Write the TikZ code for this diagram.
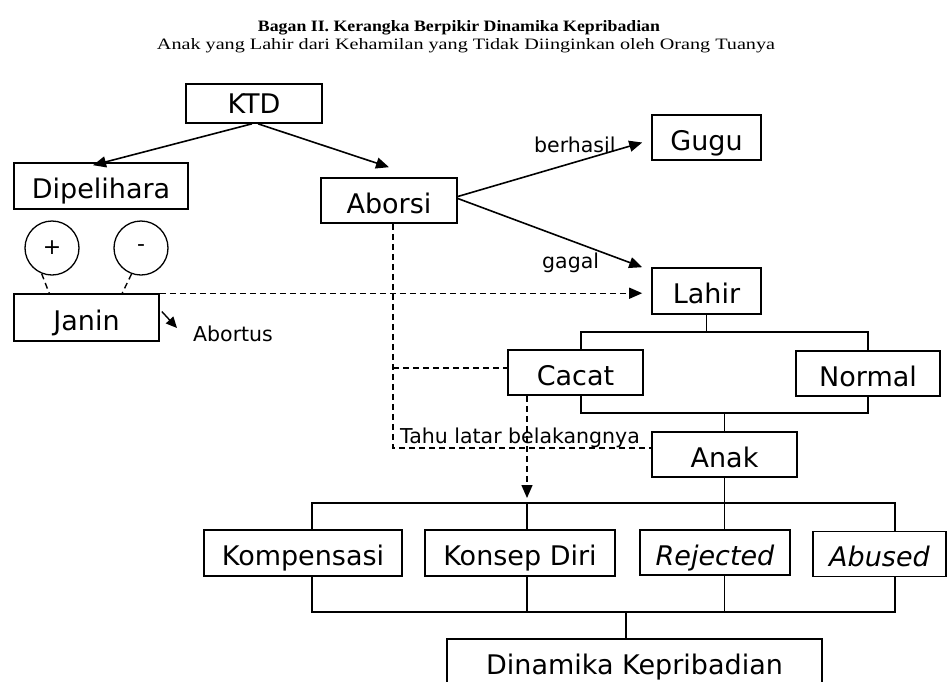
\documentclass[tikz,border=0pt]{standalone}
\usepackage{fontspec}
\usepackage{graphicx}
\setmainfont{DejaVu Sans}
\newfontfamily\titlefont{Liberation Serif}
\usetikzlibrary{arrows.meta,calc}
\begin{document}
\begin{tikzpicture}[x=1pt,y=-1pt,
  box/.style={draw, line width=1.6pt, inner sep=0pt, minimum height=45pt,
              text height=25pt, text depth=0pt, font=\fontsize{27}{30}\selectfont},
  circ/.style={draw, circle, line width=1.3pt, minimum size=54pt, inner sep=0pt,
               font=\fontsize{22}{24}\selectfont},
  lab/.style={inner sep=0pt, anchor=base west, font=\fontsize{20.5}{23}\selectfont},
  conn/.style={line width=1.7pt},
  arr/.style={line width=1.6pt, -{Triangle[length=13pt,width=11pt]}},
  dsh/.style={line width=1.4pt, dash pattern=on 6pt off 4pt},
  ttl/.style={inner sep=0pt, anchor=base},
]
\useasboundingbox[fill=white] (0,0) rectangle (951,681);

% title
\node[ttl] (t1) at (459,31) {\resizebox{402pt}{11pt}{\titlefont\bfseries Bagan II. Kerangka Berpikir Dinamika Kepribadian}};
\node[ttl] (t2) at (466,49) {\resizebox{618pt}{11pt}{\titlefont Anak yang Lahir dari Kehamilan yang Tidak Diinginkan oleh Orang Tuanya}};

% boxes
\node[box, minimum width=136pt, minimum height=39pt, text height=19pt] (ktd) at (254,103.5) {KTD};
\node[box, minimum width=174pt, minimum height=46pt] (dip) at (101,186) {Dipelihara};
\node[box, minimum width=136pt] (abo) at (389,200.5) {Aborsi};
\node[box, minimum width=109pt] (gugu) at (706.5,137.5) {Gugu};
\node[box, minimum width=109pt, minimum height=46pt] (lahir) at (706.5,291) {Lahir};
\node[circ] (plus) at (52,248) {+};
\node[circ] (minus) at (141,248) {-};
\node[box, minimum width=145pt, minimum height=47pt] (janin) at (86.5,317.5) {Janin};
\node[box, minimum width=135pt] (cacat) at (575.5,372.5) {Cacat};
\node[box, minimum width=144pt] (normal) at (868,373.5) {Normal};
\node[box, minimum width=145pt] (anak) at (724.5,454.5) {Anak};
\node[box, minimum width=198pt, minimum height=46pt] (komp) at (303,553) {Kompensasi};
\node[box, minimum width=190pt, minimum height=46pt] (konsep) at (520,553) {Konsep Diri};
\node[box, minimum width=150pt] (rej) at (715,552.5) {\itshape Rejected};
\node[box, minimum width=133pt] (abu) at (879.5,554) {\itshape Abused};
\node[box, minimum width=375pt, minimum height=46pt] (dina) at (634.5,662) {Dinamika Kepribadian};

% labels
\node[lab] (lberhasil) at (534,152) {berhasil};
\node[lab] (lgagal) at (542,268) {gagal};
\node[lab] (labortus) at (193,341) {Abortus};
\node[lab] (ltahu) at (400,443) {Tahu latar belakangnya};

% coordinates
\coordinate (abt) at (177,328);
\coordinate (lt) at (581,332);
\coordinate (rt) at (868,332);
\coordinate (lb) at (581,413);
\coordinate (b1) at (312,503);
\coordinate (kd) at (527,503);
\coordinate (b4) at (895,503);
\coordinate (c1) at (312,612);
\coordinate (c4) at (895,612);
\coordinate (dv) at ([xshift=4pt]abo.south);
\coordinate (cacatL) at ([yshift=4.5pt]cacat.west);

% arrows from KTD
\draw[arr] ([xshift=-2pt]ktd.south) -- ([xshift=-8pt,yshift=-3pt]dip.north);
\draw[arr] ([xshift=4pt]ktd.south) -- ([yshift=10pt]abo.north);
% from Aborsi
\draw[arr] ([yshift=4pt]abo.east) -- ([xshift=-9pt,yshift=-5pt]gugu.west);
\draw[arr] ([yshift=2pt]abo.east) -- ([xshift=-9pt]lahir.north west);
% circles to Janin
\draw[dsh] (plus.248) -- ([xshift=36pt]janin.north west);
\draw[dsh] (minus.250) -- ([xshift=109pt]janin.north west);
% Janin to Lahir
\draw[dsh, arr, line width=1.4pt, shorten >=9pt] (janin.north east) -- (janin.north east -| lahir.west);
% Janin to Abortus
\draw[arr, line width=1.4pt, -{Triangle[length=11pt,width=10pt]}] ([xshift=2pt,yshift=6pt]janin.east) -- (abt);
% Aborsi dashed
\draw[dsh] (dv) |- ([yshift=6.5pt]anak.west);
\draw[dsh] (dv |- cacatL) -- (cacatL);
% Cacat dashed down
\draw[dsh, arr, line width=1.4pt] ([xshift=-48.5pt]cacat.south) -- ([yshift=5pt]kd);
% Lahir tree
\draw[conn] (lahir.south) -- (lahir.south |- lt);
\draw[conn] (lt |- cacat.north) -- (lt) -- (rt) -- (normal.north);
\draw[conn] (lb |- cacat.south) -- (lb) -- (normal.south |- lb) -- (normal.south);
\draw[conn] (anak.north |- lb) -- (anak.north);
% Anak down
\draw[conn] (anak.south) -- (anak.south |- rej.north);
\draw[conn] (b1 |- komp.north) -- (b1) -- (b4) -- (b4 |- abu.north);
\draw[conn] (kd) -- (kd |- konsep.north);
% bottom bus
\draw[conn] (c1 |- komp.south) -- (c1) -- (c4) -- (c4 |- abu.south);
\draw[conn] (kd |- konsep.south) -- (kd |- c1);
\draw[conn] (anak.south |- rej.south) -- (anak.south |- c1);
\draw[conn] ([xshift=-8.5pt]dina.north |- c1) -- ([xshift=-8.5pt]dina.north);
\end{tikzpicture}
\end{document}
